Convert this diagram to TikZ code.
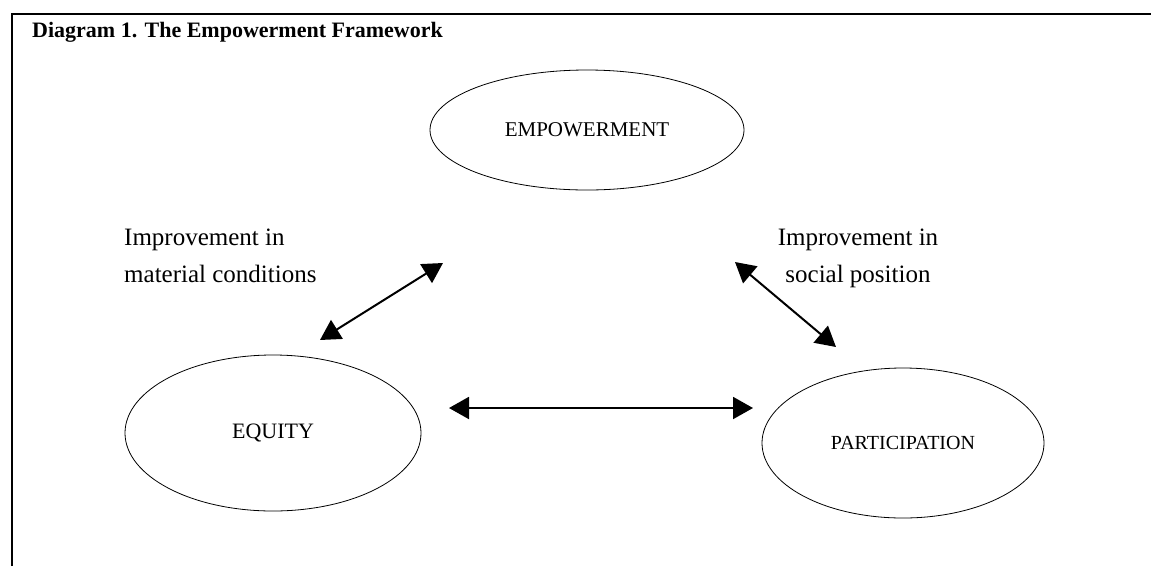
\documentclass[tikz,border=0pt]{standalone}
\usepackage{fontspec}
\setmainfont{Liberation Serif}
\usetikzlibrary{arrows.meta,shapes.geometric}
\begin{document}
\begin{tikzpicture}[x=1pt,y=-1pt,
  bubble/.style={draw, ellipse, line width=0.8pt, inner sep=0pt},
  link/.style={line width=2pt, {Triangle[length=20pt,width=22pt]}-{Triangle[length=20pt,width=22pt]}},
  lbl/.style={font=\fontsize{25}{37}\selectfont, inner sep=0pt}
]
\useasboundingbox (0,0) rectangle (1151,566);
% open frame along the top and left edges
\draw[line width=2pt] (12,566) -- (12,14) -- (1151,14);
\node[anchor=base west, inner sep=0pt, font=\fontsize{22}{26}\selectfont\bfseries]
  (title) at (32,37) {Diagram 1. The Empowerment Framework};

% the three ellipses
\node[bubble, minimum width=314pt, minimum height=120pt, font=\fontsize{21}{24}\selectfont]
  (emp) at (587,130) {EMPOWERMENT};
\node[bubble, minimum width=296pt, minimum height=156pt, font=\fontsize{22}{24}\selectfont]
  (eq) at (273,433) {EQUITY};
\node[bubble, minimum width=282pt, minimum height=150pt, font=\fontsize{20}{24}\selectfont]
  (par) at (903,443) {PARTICIPATION};

% labels of the two upper links
\node[lbl, align=left, anchor=north west] (lmat) at (124,229) {Improvement in\\material conditions};
\node[lbl, align=center, anchor=north] (lsoc) at (858,229) {Improvement in\\social position};

% arrow end points
\coordinate (a1) at (320,340);
\coordinate (a2) at (443,263);
\coordinate (b1) at (735,262);
\coordinate (b2) at (836,347);
\coordinate (c1) at (449,408);
\coordinate (c2) at (753,408);

\draw[link] (a1) -- (a2);
\draw[link] (b1) -- (b2);
\draw[link] (c1) -- (c2);
\end{tikzpicture}
\end{document}
